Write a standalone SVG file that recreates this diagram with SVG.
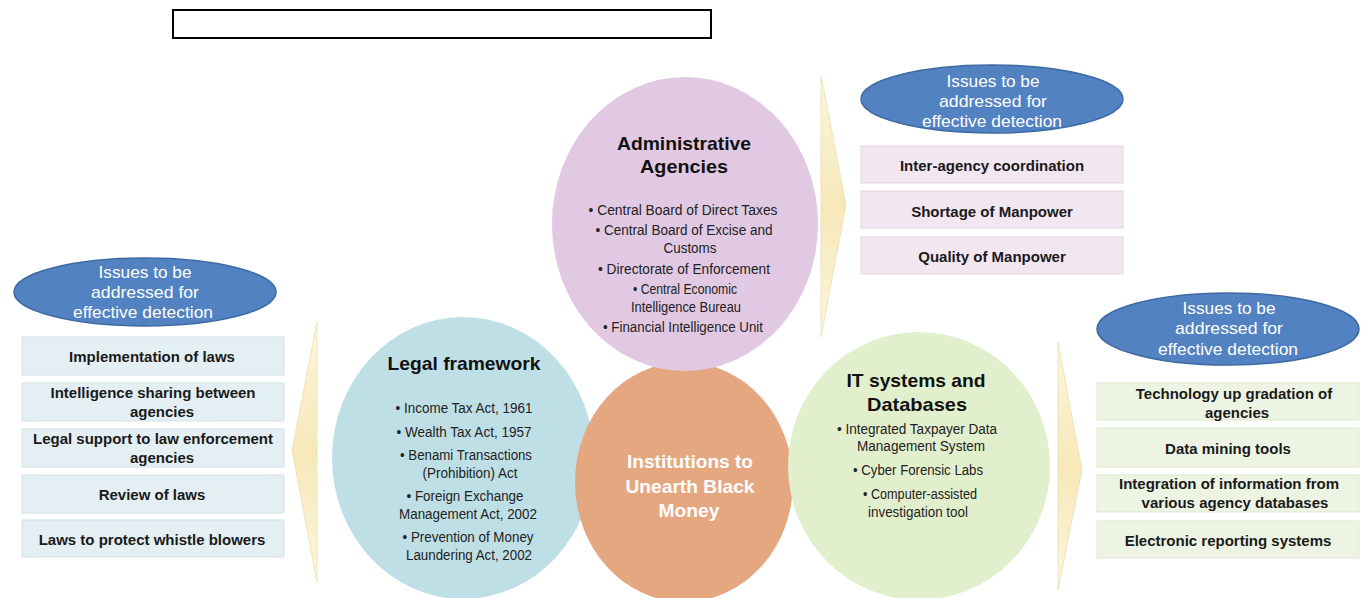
<svg xmlns="http://www.w3.org/2000/svg" width="1368" height="598" viewBox="0 0 1368 598">
<defs>
<style>
.hd{font-family:"Liberation Sans",Arial,sans-serif;font-weight:bold;font-size:19px;fill:#111;text-anchor:middle}
.hw{font-family:"Liberation Sans",Arial,sans-serif;font-weight:bold;font-size:19px;fill:#fff;text-anchor:middle}
.bl{font-family:"Liberation Sans",Arial,sans-serif;font-size:14px;fill:#222;text-anchor:middle}
.bx{font-family:"Liberation Sans",Arial,sans-serif;font-weight:bold;font-size:15px;fill:#1a1a1a;text-anchor:middle}
.el{font-family:"Liberation Sans",Arial,sans-serif;font-size:17px;fill:#fff;text-anchor:middle}
.oval{fill:#5282c1;stroke:#3c6aa3;stroke-width:1.5}
.bb{fill:#e3eff3;stroke:#d3e3e8;stroke-width:1}
.bp{fill:#f2e6f0;stroke:#e3d5e0;stroke-width:1}
.bg{fill:#eef4e3;stroke:#dde7cf;stroke-width:1}
.chev{fill:url(#yel);stroke:#eadfb0;stroke-width:0.8}
</style>
<linearGradient id="yel" x1="0" y1="0" x2="0" y2="1">
<stop offset="0" stop-color="#fcf6de"/>
<stop offset="0.5" stop-color="#f6e8b8"/>
<stop offset="1" stop-color="#fcf6de"/>
</linearGradient>
</defs>
<rect width="1368" height="598" fill="#fff"/>

<g id="title">
<rect x="173" y="10" width="538" height="28" fill="#fff" stroke="#000" stroke-width="2"/>
</g>

<g id="connectors">
<polygon class="chev" points="317,322 317,582 292,450"/>
<polygon class="chev" points="821,75 846,205 821,337"/>
<polygon class="chev" points="1058,342 1082,470 1058,590"/>
</g>

<g id="legal">
<ellipse cx="463" cy="458" rx="131" ry="141" fill="#bfdfe6"/>
<text class="hd" x="464" y="370" textLength="153" lengthAdjust="spacingAndGlyphs">Legal framework</text>
<text class="bl" x="464" y="413" textLength="137" lengthAdjust="spacingAndGlyphs">• Income Tax Act, 1961</text>
<text class="bl" x="464" y="437" textLength="135" lengthAdjust="spacingAndGlyphs">• Wealth Tax Act, 1957</text>
<text class="bl" x="466" y="460" textLength="132" lengthAdjust="spacingAndGlyphs">• Benami Transactions</text>
<text class="bl" x="470" y="478" textLength="95" lengthAdjust="spacingAndGlyphs">(Prohibition) Act</text>
<text class="bl" x="465" y="501" textLength="117" lengthAdjust="spacingAndGlyphs">• Foreign Exchange</text>
<text class="bl" x="468" y="519" textLength="138" lengthAdjust="spacingAndGlyphs">Management Act, 2002</text>
<text class="bl" x="468" y="542" textLength="131" lengthAdjust="spacingAndGlyphs">• Prevention of Money</text>
<text class="bl" x="469" y="560" textLength="126" lengthAdjust="spacingAndGlyphs">Laundering Act, 2002</text>
</g>

<g id="institutions">
<ellipse cx="684" cy="482" rx="109" ry="120" fill="#e5a780"/>
<text class="hw" x="690" y="468" textLength="126" lengthAdjust="spacingAndGlyphs">Institutions to</text>
<text class="hw" x="690" y="493" textLength="129" lengthAdjust="spacingAndGlyphs">Unearth Black</text>
<text class="hw" x="689" y="517" textLength="61" lengthAdjust="spacingAndGlyphs">Money</text>
</g>

<g id="admin">
<ellipse cx="685" cy="224" rx="133" ry="147" fill="#e1c9e3"/>
<text class="hd" x="684" y="150" textLength="134" lengthAdjust="spacingAndGlyphs">Administrative</text>
<text class="hd" x="684" y="173" textLength="88" lengthAdjust="spacingAndGlyphs">Agencies</text>
<text class="bl" x="683" y="215" textLength="189" lengthAdjust="spacingAndGlyphs">• Central Board of Direct Taxes</text>
<text class="bl" x="684" y="235" textLength="177" lengthAdjust="spacingAndGlyphs">• Central Board of Excise and</text>
<text class="bl" x="690" y="253" textLength="53" lengthAdjust="spacingAndGlyphs">Customs</text>
<text class="bl" x="684" y="274" textLength="172" lengthAdjust="spacingAndGlyphs">• Directorate of Enforcement</text>
<text class="bl" x="685" y="294" textLength="104" lengthAdjust="spacingAndGlyphs">• Central Economic</text>
<text class="bl" x="686" y="312" textLength="110" lengthAdjust="spacingAndGlyphs">Intelligence Bureau</text>
<text class="bl" x="683" y="332" textLength="160" lengthAdjust="spacingAndGlyphs">• Financial Intelligence Unit</text>
</g>

<g id="it">
<ellipse cx="919" cy="466" rx="131" ry="134" fill="#e2efcc"/>
<text class="hd" x="916" y="387" textLength="139" lengthAdjust="spacingAndGlyphs">IT systems and</text>
<text class="hd" x="917" y="411" textLength="100" lengthAdjust="spacingAndGlyphs">Databases</text>
<text class="bl" x="917" y="434" textLength="160" lengthAdjust="spacingAndGlyphs">• Integrated Taxpayer Data</text>
<text class="bl" x="921" y="451" textLength="128" lengthAdjust="spacingAndGlyphs">Management System</text>
<text class="bl" x="918" y="475" textLength="130" lengthAdjust="spacingAndGlyphs">• Cyber Forensic Labs</text>
<text class="bl" x="920" y="499" textLength="114" lengthAdjust="spacingAndGlyphs">• Computer-assisted</text>
<text class="bl" x="918" y="517" textLength="100" lengthAdjust="spacingAndGlyphs">investigation tool</text>
</g>

<g id="issues-left">
<ellipse class="oval" cx="145" cy="292" rx="131" ry="34"/>
<text class="el" x="145" y="278" textLength="93" lengthAdjust="spacingAndGlyphs">Issues to be</text>
<text class="el" x="145" y="298" textLength="108" lengthAdjust="spacingAndGlyphs">addressed for</text>
<text class="el" x="143" y="318" textLength="140" lengthAdjust="spacingAndGlyphs">effective detection</text>
<rect class="bb" x="22" y="337" width="262" height="38"/>
<text class="bx" x="152" y="362">Implementation of laws</text>
<rect class="bb" x="22" y="383" width="262" height="38"/>
<text class="bx" x="153" y="398">Intelligence sharing between</text>
<text class="bx" x="162" y="417">agencies</text>
<rect class="bb" x="22" y="429" width="262" height="38"/>
<text class="bx" x="153" y="444">Legal support to law enforcement</text>
<text class="bx" x="162" y="463">agencies</text>
<rect class="bb" x="22" y="475" width="262" height="38"/>
<text class="bx" x="152" y="500">Review of laws</text>
<rect class="bb" x="22" y="520" width="262" height="37"/>
<text class="bx" x="152" y="545">Laws to protect whistle blowers</text>
</g>

<g id="issues-top">
<ellipse class="oval" cx="992" cy="99" rx="131" ry="34"/>
<text class="el" x="993" y="87" textLength="93" lengthAdjust="spacingAndGlyphs">Issues to be</text>
<text class="el" x="993" y="107" textLength="108" lengthAdjust="spacingAndGlyphs">addressed for</text>
<text class="el" x="992" y="127" textLength="140" lengthAdjust="spacingAndGlyphs">effective detection</text>
<rect class="bp" x="861" y="146" width="262" height="37"/>
<text class="bx" x="992" y="171">Inter-agency coordination</text>
<rect class="bp" x="861" y="191" width="262" height="37"/>
<text class="bx" x="992" y="217">Shortage of Manpower</text>
<rect class="bp" x="861" y="237" width="262" height="37"/>
<text class="bx" x="992" y="262">Quality of Manpower</text>
</g>

<g id="issues-right">
<ellipse class="oval" cx="1228" cy="329" rx="131" ry="36"/>
<text class="el" x="1229" y="314" textLength="93" lengthAdjust="spacingAndGlyphs">Issues to be</text>
<text class="el" x="1229" y="334" textLength="108" lengthAdjust="spacingAndGlyphs">addressed for</text>
<text class="el" x="1228" y="355" textLength="140" lengthAdjust="spacingAndGlyphs">effective detection</text>
<rect class="bg" x="1097" y="383" width="262" height="37"/>
<text class="bx" x="1234" y="399">Technology up gradation of</text>
<text class="bx" x="1237" y="418">agencies</text>
<rect class="bg" x="1097" y="428" width="262" height="39"/>
<text class="bx" x="1228" y="454">Data mining tools</text>
<rect class="bg" x="1097" y="475" width="262" height="37"/>
<text class="bx" x="1229" y="489">Integration of information from</text>
<text class="bx" x="1235" y="508">various agency  databases</text>
<rect class="bg" x="1097" y="521" width="262" height="37"/>
<text class="bx" x="1228" y="546">Electronic reporting systems</text>
</g>
</svg>
